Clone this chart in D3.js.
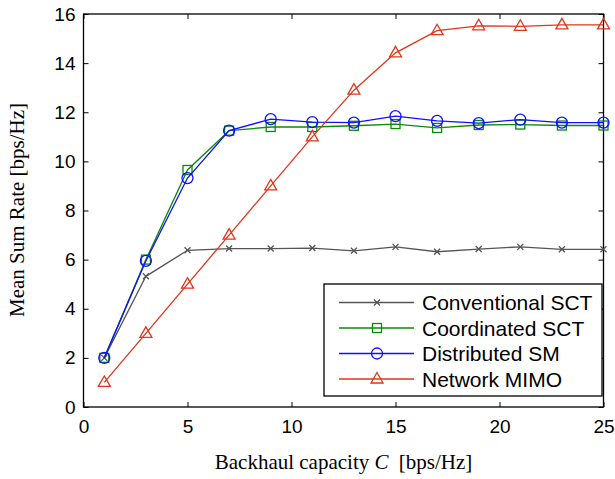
<!DOCTYPE html>
<html>
<head>
    <script src="https://cdnjs.cloudflare.com/ajax/libs/d3/7.8.5/d3.min.js"></script>
    <style>
        body { margin: 0; background: #fff; }
        .tick text { font-family: "Liberation Sans", Arial, sans-serif; font-size: 19px; fill: #000; }
        .lbl { font-family: "Liberation Serif", "Times New Roman", serif; font-size: 21px; fill: #000; }
        .leg { font-family: "Liberation Sans", Arial, sans-serif; font-size: 21px; fill: #000; }
    </style>
</head>
<body>
    <div id="chart"></div>
    <script>
        // Chart data
        const capacity = [1, 3, 5, 7, 9, 11, 13, 15, 17, 19, 21, 23, 25];
        const conventionalSCT = [2.0, 5.32, 6.38, 6.45, 6.45, 6.47, 6.36, 6.52, 6.32, 6.43, 6.52, 6.42, 6.42];
        const coordinatedSCT = [2.0, 6.0, 9.65, 11.25, 11.4, 11.4, 11.45, 11.52, 11.36, 11.48, 11.5, 11.46, 11.46];
        const distributedSM = [2.0, 5.95, 9.32, 11.25, 11.72, 11.6, 11.58, 11.84, 11.65, 11.56, 11.7, 11.58, 11.58];
        const networkMIMO = [1.0, 3.0, 5.0, 7.0, 9.0, 11.0, 12.9, 14.42, 15.32, 15.52, 15.5, 15.56, 15.56];
        const xTicks = [0, 5, 10, 15, 20, 25];
        const yTicks = [0, 2, 4, 6, 8, 10, 12, 14, 16];

        const series = [
            { name: "Conventional SCT", values: conventionalSCT, color: "#555555", marker: "x" },
            { name: "Coordinated SCT", values: coordinatedSCT, color: "#0a8a0a", marker: "square" },
            { name: "Distributed SM", values: distributedSM, color: "#1010ff", marker: "circle" },
            { name: "Network MIMO", values: networkMIMO, color: "#e0361a", marker: "triangle" }
        ];

        const width = 615, height = 479;
        const margin = { left: 83.5, right: 11.5, top: 14, bottom: 72 };
        const iw = width - margin.left - margin.right;
        const ih = height - margin.top - margin.bottom;

        const svg = d3.select("#chart").append("svg")
            .attr("width", width)
            .attr("height", height);

        const g = svg.append("g").attr("transform", `translate(${margin.left},${margin.top})`);

        const x = d3.scaleLinear().domain([0, 25]).range([0, iw]);
        const y = d3.scaleLinear().domain([0, 16]).range([ih, 0]);

        // axes with inward ticks on all sides
        const styleAxis = sel => {
            sel.select(".domain").remove();
            sel.selectAll(".tick line").attr("stroke", "#000").attr("stroke-width", 1);
        };
        g.append("g").attr("transform", `translate(0,${ih})`)
            .call(d3.axisBottom(x).tickValues(xTicks).tickSizeInner(-5).tickSizeOuter(0).tickPadding(13))
            .call(styleAxis);
        g.append("g")
            .call(d3.axisTop(x).tickValues(xTicks).tickSizeInner(-5).tickSizeOuter(0).tickFormat(""))
            .call(styleAxis);
        g.append("g")
            .call(d3.axisLeft(y).tickValues(yTicks).tickSizeInner(-5).tickSizeOuter(0).tickPadding(8))
            .call(styleAxis);
        g.append("g").attr("transform", `translate(${iw},0)`)
            .call(d3.axisRight(y).tickValues(yTicks).tickSizeInner(-5).tickSizeOuter(0).tickFormat(""))
            .call(styleAxis);
        g.selectAll(".tick text").attr("font-family", null).attr("font-size", null);

        g.append("rect")
            .attr("width", iw).attr("height", ih)
            .attr("fill", "none").attr("stroke", "#000").attr("stroke-width", 1.3);

        function drawMarker(sel, type, color) {
            if (type === "x") {
                sel.append("path").attr("d", "M-3,-3L3,3M-3,3L3,-3")
                    .attr("stroke", color).attr("stroke-width", 1.3).attr("fill", "none");
            } else if (type === "square") {
                sel.append("rect").attr("x", -4.5).attr("y", -4.5).attr("width", 9).attr("height", 9)
                    .attr("stroke", color).attr("stroke-width", 1.3).attr("fill", "none");
            } else if (type === "circle") {
                sel.append("circle").attr("r", 5.5)
                    .attr("stroke", color).attr("stroke-width", 1.3).attr("fill", "none");
            } else {
                sel.append("path").attr("d", "M0,-6.5L6,4L-6,4Z")
                    .attr("stroke", color).attr("stroke-width", 1.3).attr("fill", "none");
            }
        }

        const line = d3.line().x((d, i) => x(capacity[i])).y(d => y(d));

        series.forEach(s => {
            g.append("path")
                .datum(s.values)
                .attr("d", line)
                .attr("fill", "none")
                .attr("stroke", s.color)
                .attr("stroke-width", 1.3);
            s.values.forEach((v, i) => {
                const m = g.append("g").attr("transform", `translate(${x(capacity[i])},${y(v)})`);
                drawMarker(m, s.marker, s.color);
            });
        });

        // legend
        const lg = svg.append("g").attr("transform", "translate(324,284)");
        lg.append("rect").attr("width", 278).attr("height", 112)
            .attr("fill", "#fff").attr("stroke", "#000").attr("stroke-width", 1.3);
        series.forEach((s, i) => {
            const row = lg.append("g").attr("transform", `translate(0,${18.5 + i * 25.5})`);
            row.append("line").attr("x1", 15).attr("x2", 90)
                .attr("stroke", s.color).attr("stroke-width", 1.3);
            drawMarker(row.append("g").attr("transform", "translate(53,0)"), s.marker, s.color);
            row.append("text").attr("x", 98).attr("dy", "0.36em")
                .attr("class", "leg")
                .text(s.name);
        });

        // axis labels
        const xl = svg.append("text").attr("class", "lbl")
            .attr("x", margin.left + iw / 2).attr("y", 469)
            .attr("text-anchor", "middle");
        xl.append("tspan").text("Backhaul capacity ");
        xl.append("tspan").attr("font-style", "italic").text("C");
        xl.append("tspan").attr("dx", 5).text(" [bps/Hz]");

        svg.append("text").attr("class", "lbl")
            .attr("transform", "translate(24,210) rotate(-90)")
            .attr("text-anchor", "middle")
            .text("Mean Sum Rate [bps/Hz]");
    </script>
</body>
</html>
